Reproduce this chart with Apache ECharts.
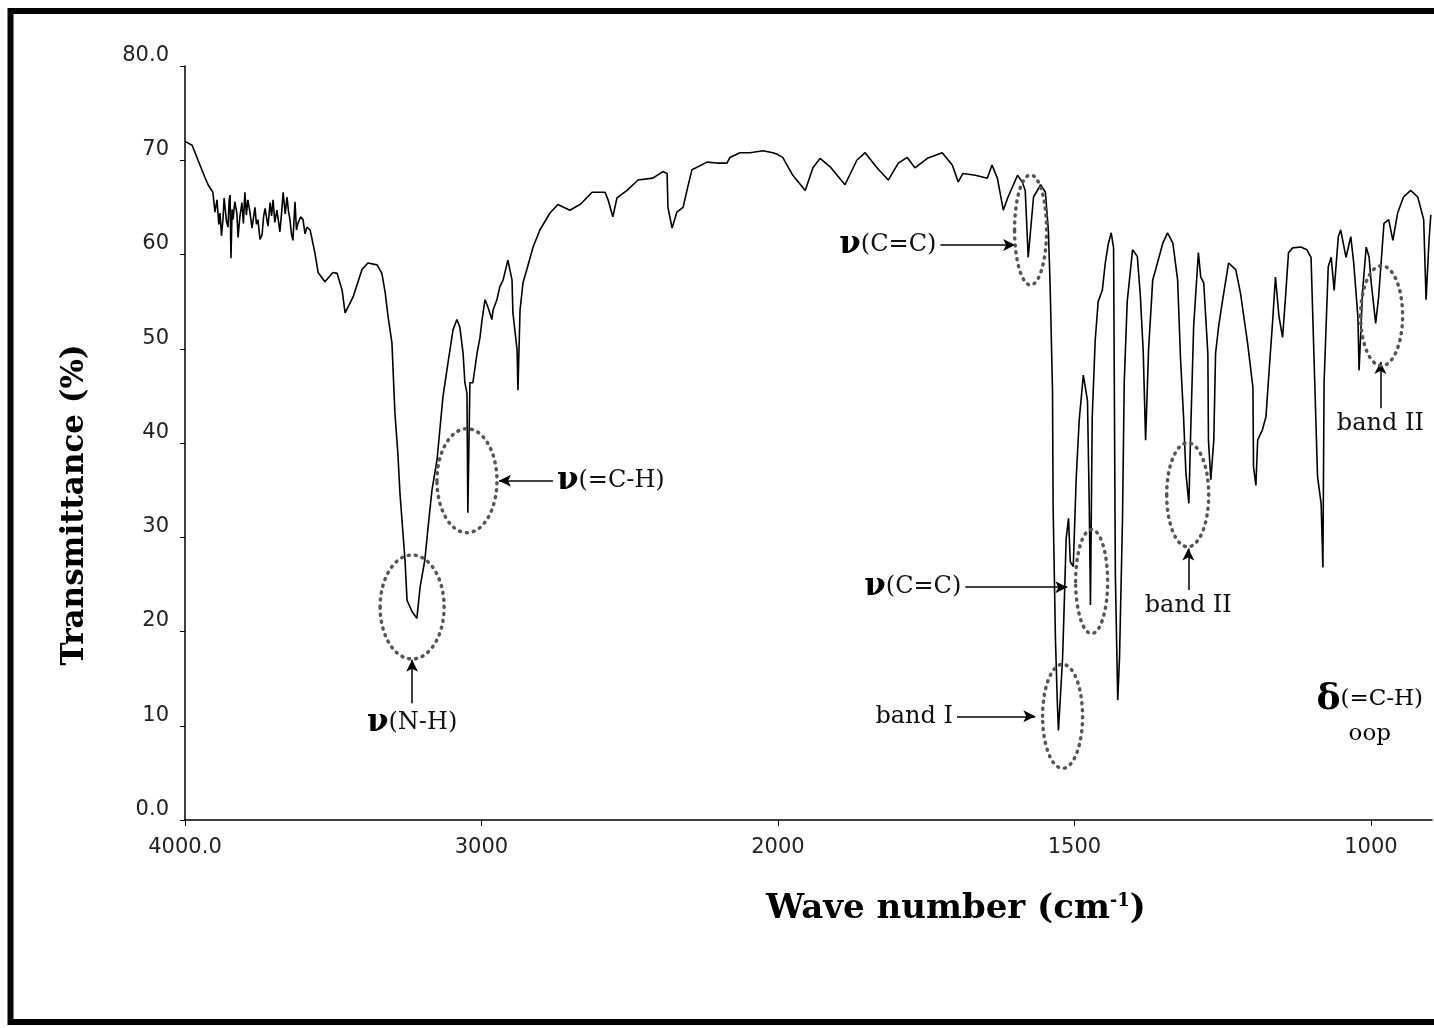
<!DOCTYPE html>
<html>
<head>
<meta charset="utf-8">
<script src="https://cdn.jsdelivr.net/npm/echarts@6/dist/echarts.min.js"></script>
<style>
  html, body { margin: 0; padding: 0; background: #fff; }
  #chart { width: 1434px; height: 1028px; }
</style>
</head>
<body>
<div id="chart"></div>
<script>
// IR spectrum (wave number in cm-1, transmittance in %)
const wavenumber = [
  4000, 3976, 3956, 3933, 3922, 3906, 3899, 3892, 3886, 3882, 3877, 3872, 3868, 3865, 3860, 3855,
  3851, 3848, 3845, 3841, 3838, 3832, 3825, 3821, 3815, 3808, 3803, 3798, 3793, 3788, 3781, 3774,
  3764, 3759, 3754, 3747, 3740, 3735, 3730, 3720, 3713, 3708, 3703, 3697, 3690, 3685, 3680, 3674,
  3669, 3662, 3656, 3651, 3646, 3641, 3636, 3629, 3624, 3619, 3610, 3602, 3595, 3589, 3578, 3562,
  3551, 3528, 3501, 3487, 3470, 3460, 3433, 3403, 3383, 3352,
  3336, 3325, 3315, 3302, 3292, 3282, 3275, 3265, 3258, 3251, 3234, 3218, 3207, 3191, 3180, 3167,
  3150, 3130, 3113, 3096, 3083, 3073, 3062, 3056, 3049, 3046, 3039, 3029, 3015, 3005, 2998, 2988,
  2978, 2965, 2961, 2948, 2938, 2927, 2911, 2897, 2894, 2880, 2877, 2870, 2860, 2847, 2826, 2803,
  2769, 2742, 2702, 2668, 2658, 2627, 2583, 2573, 2557, 2543, 2509, 2472, 2422, 2388, 2374, 2371,
  2357, 2341, 2320, 2304, 2290, 2239, 2206, 2172, 2162, 2128, 2094, 2051, 2017, 2000,
  1992, 1975, 1954, 1941, 1929, 1912, 1887, 1867, 1853, 1833, 1814, 1797, 1782, 1769, 1748, 1723,
  1706, 1696, 1688, 1667, 1647, 1639, 1630, 1620, 1612, 1596, 1588, 1583, 1578, 1569, 1557, 1549,
  1544, 1541, 1537, 1536, 1532, 1529, 1527, 1524, 1520, 1517, 1514, 1510, 1507, 1502, 1497, 1492,
  1485, 1478, 1475, 1473, 1470, 1465, 1460, 1453, 1448, 1443, 1438, 1434, 1431, 1427, 1424, 1419,
  1416, 1411, 1402, 1394, 1389, 1384, 1380, 1375, 1368, 1363, 1351, 1343, 1334, 1326, 1321, 1316,
  1312, 1307, 1304, 1299, 1291, 1287, 1282, 1275, 1274, 1270, 1265, 1262, 1257, 1250, 1240, 1228,
  1220, 1208, 1199, 1198, 1194, 1191, 1183, 1177, 1172, 1166, 1161, 1155, 1149, 1144, 1139, 1132,
  1118, 1108, 1101, 1096, 1090, 1084, 1081, 1079, 1072, 1067, 1062, 1055, 1051, 1042, 1034, 1029,
  1022, 1020, 1014, 1008, 1003, 1000, 992, 987, 978, 970, 963, 955, 945, 933, 921, 911,
  907, 902, 899
];
const transmittance = [
  72.0, 71.6, 70.0, 68.2, 67.4, 66.6, 64.5, 65.8, 63.2, 64.4, 62.0, 63.7, 66.0, 65.0, 63.5, 62.9,
  65.8, 66.3, 59.6, 64.8, 63.7, 65.6, 64.4, 61.8, 64.0, 65.5, 63.3, 66.6, 64.2, 65.8, 64.5, 62.8,
  65.0, 63.2, 63.7, 61.6, 62.1, 64.0, 64.9, 63.0, 65.5, 64.1, 65.8, 63.4, 64.7, 63.6, 62.4, 64.5,
  66.6, 64.3, 66.1, 64.6, 63.7, 62.2, 61.5, 65.6, 62.6, 63.3, 64.0, 63.7, 62.2, 62.9, 62.6, 60.2,
  58.1, 57.1, 58.1, 58.0, 56.2, 53.8, 55.5, 58.4, 59.1, 58.9,
  58.0, 56.0, 53.4, 50.6, 43.2, 38.9, 34.7, 30.5, 27.6, 23.3, 22.1, 21.4, 24.7, 27.6, 31.1, 35.0,
  38.2, 44.9, 48.5, 52.0, 53.1, 52.3, 49.5, 46.4, 45.3, 32.6, 46.4, 46.4, 49.5, 51.2, 53.1, 55.2,
  54.4, 53.1, 54.1, 55.2, 56.6, 57.3, 59.4, 57.3, 53.8, 49.9, 45.6, 54.1, 57.0, 58.4, 60.8, 62.6,
  64.4, 65.3, 64.7, 65.3, 65.6, 66.6, 66.6, 65.8, 64.0, 66.0, 66.8, 67.9, 68.1, 68.8, 68.6, 65.0,
  62.8, 64.5, 65.0, 67.2, 69.0, 69.8, 69.7, 69.7, 70.3, 70.8, 70.8, 71.0, 70.8, 70.6,
  70.3, 68.4, 66.8, 69.2, 70.2, 69.3, 67.4, 70.0, 70.8, 69.2, 67.9, 69.7, 70.3, 69.2, 70.2, 70.8,
  69.5, 67.7, 68.6, 68.4, 68.1, 69.5, 68.1, 64.7, 66.1, 68.4, 67.7, 66.8, 59.7, 66.1, 67.4, 66.6,
  62.6, 56.7, 45.6, 33.4, 19.1, 12.7, 9.5, 12.7, 17.2, 23.3, 29.8, 32.0, 27.4, 26.9, 36.3, 42.4,
  47.2, 44.5, 33.4, 22.8, 42.8, 50.9, 55.0, 56.2, 59.1, 61.1, 62.3, 60.7, 26.1, 12.7, 17.2, 31.8,
  46.5, 55.0, 60.5, 59.8, 55.8, 49.7, 40.3, 49.9, 57.3, 58.4, 61.2, 62.3, 61.2, 57.3, 48.8, 42.8,
  36.8, 33.6, 41.1, 52.3, 60.2, 57.6, 57.0, 49.5, 40.3, 36.1, 40.3, 49.5, 52.3, 55.2, 59.1, 58.4,
  55.9, 50.6, 45.9, 37.5, 35.5, 40.3, 41.4, 42.8, 47.4, 52.7, 57.6, 53.4, 51.2, 55.5, 60.2, 60.7,
  60.8, 60.5, 59.7, 49.1, 36.4, 33.6, 26.8, 46.4, 58.7, 59.7, 56.2, 61.9, 62.6, 59.7, 61.9, 59.1,
  53.4, 47.7, 56.2, 60.8, 59.7, 57.3, 52.7, 55.5, 63.3, 63.7, 61.5, 64.4, 66.1, 66.8, 66.1, 63.7,
  55.2, 61.5, 64.2
];
const tickWave = [4000, 3000, 2000, 1500, 1000];
const tickLabels = ['4000.0', '3000', '2000', '1500', '1000'];

// circled bands: centre in (wave number, transmittance), radii in px
const ellipseWave = [3234, 3049, 1574, 1471, 1520, 1309, 982];
const ellipseT = [22.6, 36.0, 62.6, 25.3, 11.0, 34.5, 53.5];
const ellipseRx = [32, 30, 16, 16, 20, 21, 21];
const ellipseRy = [52, 52, 55, 52, 52, 52, 50];

// arrows: from the label to the ellipse edge
const arrowText = ['{v|ν}{t|(N-H)}', '{v|ν}{t|(=C-H)}', '{v|ν}{t|(C=C)}', '{v|ν}{t|(C=C)}',
  '{t|band I}', '{t|band II}', '{t|band II}'];
const arrowFrom = [[3234, 12.4], [2759, 36.0], [1726, 61.0], [1684, 24.7], [1698, 11.0], [1308, 24.4], [984, 43.7]];
const arrowTo = [[3234, 17.0], [2941, 36.0], [1600, 61.0], [1512, 24.7], [1566, 11.0], [1308, 28.8], [984, 48.6]];

// the x scale doubles below 2000 cm-1, as on the spectrometer chart
const toAxis = w => (w >= 2000 ? 4000 - w : 2000 + 2 * (2000 - w));

const chart = echarts.init(document.getElementById('chart'));

const serif = '"DejaVu Serif", "Liberation Serif", serif';
const rich = {
  v: { fontFamily: serif, fontWeight: 'bold', fontSize: 31, color: '#000' },
  t: { fontFamily: serif, fontSize: 24, color: '#111' }
};

const option = {
  backgroundColor: '#fff',
  animation: false,
  grid: { left: 185, right: 2, top: 66, bottom: 208 },
  xAxis: {
    type: 'value',
    min: 0,
    max: 4206,
    axisLine: { lineStyle: { color: '#000', width: 1.5 } },
    axisTick: { length: 6, lineStyle: { color: '#000' }, customValues: tickWave.map(toAxis) },
    axisLabel: {
      customValues: tickWave.map(toAxis),
      margin: 17,
      fontFamily: '"DejaVu Sans", sans-serif',
      fontSize: 21,
      color: '#222',
      formatter: v => tickLabels[tickWave.map(toAxis).indexOf(v)]
    },
    splitLine: { show: false },
    name: '{a|Wave number (cm}{s|-1}{a|)}',
    nameLocation: 'middle',
    nameGap: 72,
    nameTextStyle: {
      padding: [0, 0, 0, 295],
      rich: {
        a: { fontFamily: serif, fontWeight: 'bold', fontSize: 34, color: '#000' },
        s: { fontFamily: serif, fontWeight: 'bold', fontSize: 18, color: '#000', verticalAlign: 'top', padding: [0, 0, 14, 0] }
      }
    }
  },
  yAxis: {
    type: 'value',
    min: 0,
    max: 80,
    interval: 10,
    axisLine: { show: true, lineStyle: { color: '#000', width: 1.5 } },
    axisTick: { show: true, length: 5, lineStyle: { color: '#000' } },
    axisLabel: {
      margin: 16,
      verticalAlign: 'bottom',
      fontFamily: '"DejaVu Sans", sans-serif',
      fontSize: 21,
      color: '#222',
      formatter: v => (v === 0 || v === 80 ? v.toFixed(1) : String(v))
    },
    splitLine: { show: false },
    name: 'Transmittance (%)',
    nameLocation: 'middle',
    nameGap: 95,
    nameTextStyle: {
      fontFamily: serif,
      fontWeight: 'bold',
      fontSize: 31,
      color: '#000',
      padding: [0, 124, 0, 0]
    }
  },
  series: [{
    type: 'line',
    data: wavenumber.map((w, i) => [toAxis(w), transmittance[i]]),
    symbol: 'none',
    lineStyle: { color: '#000', width: 1.6 },
    markLine: {
      silent: true,
      symbol: ['none', 'arrow'],
      symbolSize: [9, 12],
      lineStyle: { color: '#000', width: 1.5, type: 'solid' },
      label: { show: true, position: 'start', distance: 4, rich: rich },
      data: arrowFrom.map((p, i) => [
        { coord: [toAxis(p[0]), p[1]], label: { formatter: arrowText[i] } },
        { coord: [toAxis(arrowTo[i][0]), arrowTo[i][1]] }
      ])
    }
  }]
};
chart.setOption(option);

// dotted ellipses and the delta label, placed with the chart's own scales
const ellipses = ellipseWave.map((w, i) => {
  const p = chart.convertToPixel({ gridIndex: 0 }, [toAxis(w), ellipseT[i]]);
  return {
    type: 'ellipse',
    shape: { cx: p[0], cy: p[1], rx: ellipseRx[i], ry: ellipseRy[i] },
    style: { fill: 'none', stroke: '#555', lineWidth: 3.5, lineDash: [1, 6], lineCap: 'round' },
    z: 10
  };
});
const d = chart.convertToPixel({ gridIndex: 0 }, [toAxis(1002), 11.2]);
chart.setOption({
  graphic: ellipses.concat([
    {
      type: 'text',
      x: d[0], y: d[1],
      style: {
        text: '{v|δ}{t|(=C-H)}\n{o|oop}',
        align: 'center', verticalAlign: 'middle',
        rich: {
          v: { fontFamily: serif, fontWeight: 'bold', fontSize: 36, color: '#000', lineHeight: 40 },
          t: { fontFamily: serif, fontSize: 23, color: '#111', lineHeight: 40 },
          o: { fontFamily: serif, fontSize: 23, color: '#111', lineHeight: 30 }
        }
      }
    },
    {
      type: 'rect',
      shape: { x: 10.5, y: 11, width: 1440, height: 1011 },
      style: { fill: 'none', stroke: '#000', lineWidth: 6 },
      silent: true
    }
  ])
});
</script>
</body>
</html>
